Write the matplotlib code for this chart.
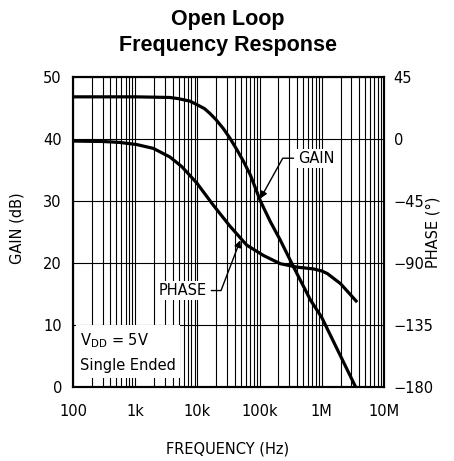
import matplotlib
matplotlib.use('Agg')
import matplotlib.pyplot as plt
from matplotlib.ticker import LogLocator, NullFormatter

# gain curve (Hz, dB)
gain_freq = [100, 1e3, 3.6e3, 5e3, 7.6e3, 10e3, 13e3, 16e3, 20e3, 26e3,
             33e3, 43e3, 55e3, 71e3, 103e3, 150e3, 215e3, 350e3, 660e3,
             1e6, 2e6, 3.5e6]
gain_db = [46.8, 46.8, 46.7, 46.5, 46.1, 45.5, 44.9, 44.1, 43.1, 41.7,
           40.2, 38.3, 36.4, 34.2, 30.0, 26.6, 23.7, 19.4, 14.0,
           11.2, 5.0, 0.0]

# phase curve (Hz, degrees)
phase_freq = [100, 300, 566, 1.05e3, 1.95e3, 3.6e3, 5.6e3, 9.8e3, 18e3,
              33e3, 62e3, 116e3, 215e3, 400e3, 740e3, 1e6, 1.23e6, 2e6, 3.7e6]
phase_deg = [-1.5, -1.8, -2.5, -4, -6.8, -13, -20, -32, -48,
             -63, -77, -84.6, -90.5, -93, -94.3, -95.8, -97.7, -105, -118.4]

xticks = [1e2, 1e3, 1e4, 1e5, 1e6, 1e7]
xticklabels = ['100', '1k', '10k', '100k', '1M', '10M']
gain_ticks = [0, 10, 20, 30, 40, 50]
phase_ticks = [-180, -135, -90, -45, 0, 45]
phase_labels = ['\u2212180', '\u2212135', '\u221290', '\u221245', '0', '45']

plt.rcParams['font.family'] = ['DejaVu Sans']
W, H = 454, 461

fig = plt.figure(figsize=(W / 100, H / 100), dpi=100)
ax = fig.add_axes([73 / W, 1 - 387 / H, 311 / W, 310 / H])

ax.plot(gain_freq, gain_db, color='black', lw=2.3, solid_capstyle='butt')
ax.set_xscale('log')
ax.set_xlim(1e2, 1e7)
ax.set_ylim(0, 50)
ax.set_xticks(xticks)
ax.set_xticklabels(xticklabels)
ax.xaxis.set_minor_locator(LogLocator(base=10, subs=range(2, 10)))
ax.xaxis.set_minor_formatter(NullFormatter())
ax.set_yticks(gain_ticks)
ax.grid(which='both', axis='x', color='black', lw=0.8)
ax.grid(which='major', axis='y', color='black', lw=0.8)
ax.tick_params(which='both', length=0, labelsize=10.5)
ax.tick_params(axis='x', pad=12)
ax.tick_params(axis='y', pad=8)
for s in ax.spines.values():
    s.set_linewidth(1.5)

fig.text(228 / W, 1 - 449 / H, 'FREQUENCY (Hz)', fontsize=10.5,
         ha='center', va='center')
fig.text(17 / W, 1 - 228 / H, 'GAIN (dB)', fontsize=10.5, rotation=90,
         ha='center', va='center')
fig.text(433 / W, 1 - 232 / H, 'PHASE (°)', fontsize=10.5, rotation=90,
         ha='center', va='center')
fig.text(228 / W, 1 - 25 / H, 'Open Loop', fontsize=15.5, fontweight='bold',
         family='Liberation Sans', ha='center', va='baseline')
fig.text(228 / W, 1 - 51 / H, 'Frequency Response', fontsize=15.5,
         fontweight='bold', family='Liberation Sans', ha='center',
         va='baseline')

ax.text(1.3e2, 5.6, 'V$_{\\mathregular{DD}}$ = 5V\nSingle Ended', fontsize=10.5,
        ha='left', va='center', linespacing=1.7,
        bbox=dict(fc='white', ec='none', pad=3), zorder=4)

ax.annotate('GAIN', xy=(1.03e5, 30.4), xytext=(4.2e5, 36.9),
            fontsize=10.5, ha='left', va='center',
            bbox=dict(fc='white', ec='none', pad=1.5),
            arrowprops=dict(arrowstyle='-|>', color='black', lw=1,
                            shrinkA=2, shrinkB=0, mutation_scale=10,
                            connectionstyle='angle,angleA=0,angleB=61,rad=0'))

ax2 = ax.twinx()
ax2.plot(phase_freq, phase_deg, color='black', lw=2.3, solid_capstyle='butt')
ax2.set_ylim(-180, 45)
ax2.set_yticks(phase_ticks)
ax2.set_yticklabels(phase_labels)
ax2.tick_params(length=0, labelsize=10.5, pad=7)
for s in ax2.spines.values():
    s.set_linewidth(1.5)

ax2.annotate('PHASE', xy=(4.9e4, -73.5), xytext=(1.4e4, -110),
             fontsize=10.5, ha='right', va='center',
             bbox=dict(fc='white', ec='none', pad=1.5),
             arrowprops=dict(arrowstyle='-|>', color='black', lw=1,
                             shrinkA=2, shrinkB=0, mutation_scale=10,
                             connectionstyle='angle,angleA=0,angleB=69,rad=0'))

fig.savefig('out.png', dpi=100)
